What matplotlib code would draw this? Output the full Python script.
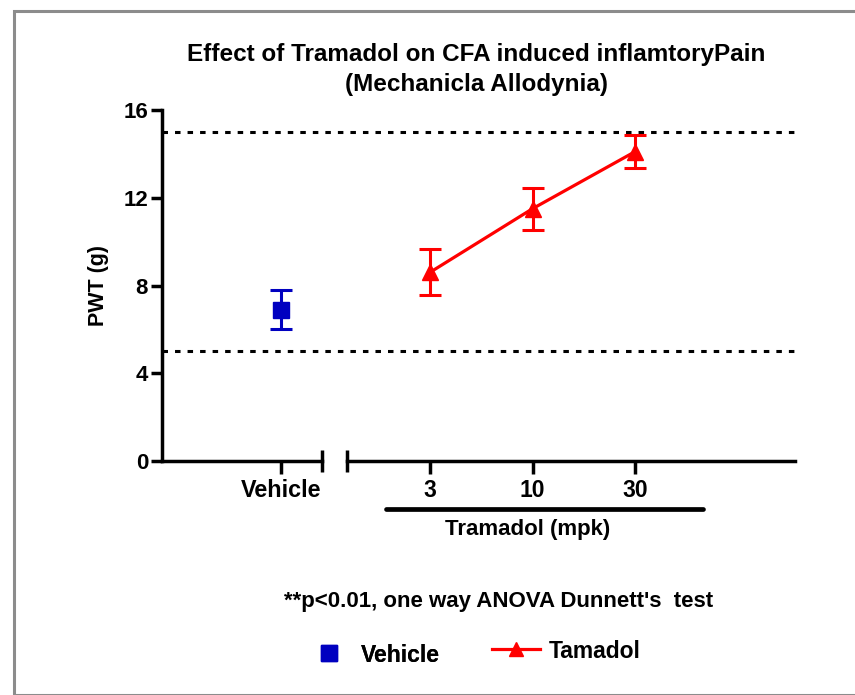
import matplotlib
matplotlib.use("Agg")
import matplotlib.pyplot as plt
from matplotlib.lines import Line2D
from matplotlib.patches import Rectangle

plt.rcParams["font.family"] = ["Liberation Sans", "DejaVu Sans"]
plt.rcParams["font.weight"] = "bold"

# data
vehicle_label = "Vehicle"
vehicle_mean = [6.9]
vehicle_sem = [0.9]

doses = ["3", "10", "30"]
tram_mean = [8.6, 11.5, 14.1]
tram_sem = [1.05, 0.95, 0.75]

yticks = [0, 4, 8, 12, 16]
ref_lines = [5, 15]

BLUE = "#0000C0"
RED = "#FF0000"
W, H = 855, 695


def fx(px):
    return px / W


def fy(py):
    return 1 - py / H


fig = plt.figure(figsize=(W / 100, H / 100), dpi=100)
fig.patches.append(Rectangle((fx(14), 0), 1, fy(11), transform=fig.transFigure,
                             fill=False, edgecolor="#8c8c8c", linewidth=2.2))

bottom, height = fy(461), fy(110) - fy(461)
unit = 102.5  # px per category step
ax_bg = fig.add_axes([fx(162), bottom, fx(795) - fx(162), height])
ax_l = fig.add_axes([fx(162), bottom, fx(322) - fx(162), height])
ax_r = fig.add_axes([fx(347), bottom, fx(795) - fx(347), height])

for ax in (ax_bg, ax_l, ax_r):
    ax.set_ylim(0, 16)
    ax.patch.set_visible(False)
    for s in ("top", "right"):
        ax.spines[s].set_visible(False)

ax_bg.axis("off")
for y in ref_lines:
    ax_bg.axhline(y, color="black", lw=2.2, dashes=(1.8, 2.3))

ax_l.set_xlim(-(281 - 162) / unit, (322 - 281) / unit)
ax_r.set_xlim(-(430 - 347) / unit, (795 - 430) / unit)

ax_l.errorbar([0], vehicle_mean, yerr=vehicle_sem, fmt="s", color=BLUE,
              ms=11, elinewidth=2.2, capsize=8, capthick=2.2)
ax_r.errorbar(range(len(doses)), tram_mean, yerr=tram_sem, fmt="-^", color=RED,
              ms=11, lw=2.3, elinewidth=2.2, capsize=8, capthick=2.2)

ax_l.spines["left"].set_linewidth(2.5)
ax_l.spines["bottom"].set_linewidth(2.5)
ax_r.spines["bottom"].set_linewidth(2.5)
ax_r.spines["left"].set_visible(False)

ax_l.set_yticks(yticks)
ax_l.set_yticklabels([str(t) for t in yticks], fontsize=16, fontweight="bold")
ax_l.tick_params(axis="y", length=8, width=2.5, pad=2)
ax_r.set_yticks([])

ax_l.set_xticks([0])
ax_l.set_xticklabels([vehicle_label], fontsize=16.8, fontweight="bold")
ax_r.set_xticks(range(len(doses)))
ax_r.set_xticklabels(doses, fontsize=16.5, fontweight="bold")
for ax in (ax_l, ax_r):
    ax.tick_params(axis="x", length=9, width=2.5, pad=4)

# break caps at the ends of the split x axis
ax_l.set_xticks([ax_l.get_xlim()[1]], minor=True)
ax_r.set_xticks([ax_r.get_xlim()[0]], minor=True)
for ax in (ax_l, ax_r):
    ax.tick_params(axis="x", which="minor", direction="inout", length=16, width=2.5)

ax_l.set_ylabel("PWT (g)", fontsize=15.5, fontweight="bold", labelpad=10)

# group bar under the doses
ax_r.plot([-0.43, 2.66], [-0.137, -0.137], transform=ax_r.get_xaxis_transform(),
          color="black", lw=3.4, solid_capstyle="round", clip_on=False)
fig.text(fx(528), fy(530), "Tramadol (mpk)", ha="center", va="center",
         fontsize=16, fontweight="bold")

fig.text(fx(476), fy(55), "Effect of Tramadol on CFA induced inflamtoryPain",
         ha="center", va="center", fontsize=17.5, fontweight="bold")
fig.text(fx(476), fy(84), "(Mechanicla Allodynia)",
         ha="center", va="center", fontsize=17.5, fontweight="bold")

fig.text(fx(499), fy(601), "**p<0.01, one way ANOVA Dunnett's  test",
         ha="center", va="center", fontsize=16, fontweight="bold")

leg_kw = dict(loc="center left", frameon=False, fontsize=16.5, borderpad=0,
              borderaxespad=0, handletextpad=0.38)
leg1 = fig.legend([Line2D([], [], ls="none", marker="s", color=BLUE, ms=11)], ["Vehicle"],
                  bbox_to_anchor=(fx(306), fy(655)), handlelength=2.0, **leg_kw)
fig.legend([Line2D([], [], ls="-", marker="^", color=RED, ms=10, lw=2.3)], ["Tamadol"],
           bbox_to_anchor=(fx(492), fy(651)), handlelength=2.1, **leg_kw)
fig.add_artist(leg1)

fig.savefig("out.png", dpi=100)
